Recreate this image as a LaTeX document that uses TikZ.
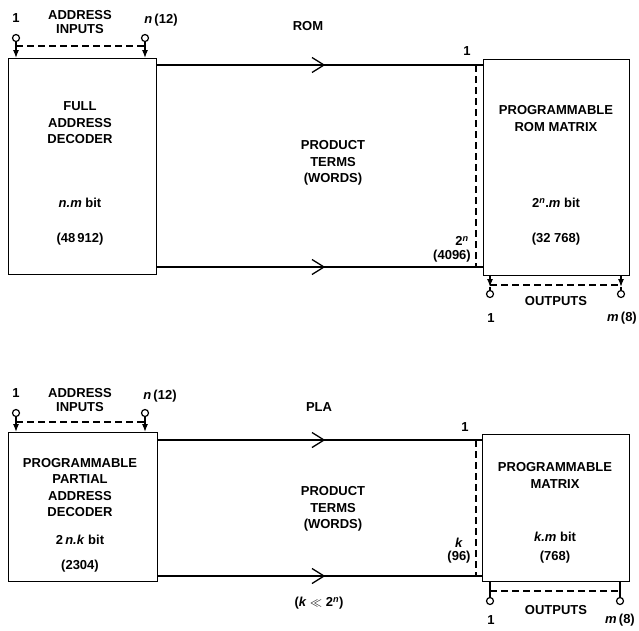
\documentclass[tikz,border=0pt]{standalone}
\usepackage{fontspec}
\setmainfont{Liberation Sans}
\usetikzlibrary{arrows.meta}
\begin{document}
\begin{tikzpicture}[x=1pt,y=-1pt,
  box/.style={draw, line width=1.4pt, inner sep=0, anchor=north west},
  lbl/.style={font=\bfseries\fontsize{13}{16.5}\selectfont, inner sep=0, align=center},
  pin/.style={draw, circle, line width=1.2pt, minimum size=7pt, inner sep=0, fill=white},
  wire/.style={line width=1.3pt},
  dline/.style={line width=1.2pt, dash pattern=on 7pt off 4pt},
  tip/.style={-{Latex[length=8pt,width=6pt]}}
]
\useasboundingbox[fill=white] (0,0) rectangle (639,630);

% ================= ROM =================
\node[box, minimum width=148pt, minimum height=216pt] (L1) at (8,58) {};
\node[box, minimum width=146pt, minimum height=216pt] (R1) at (483,59) {};

\node[pin] (i1a) at (16,38) {};
\node[pin] (i1b) at (145,38) {};
\draw[wire,tip] (i1a) -- (i1a |- L1.north);
\draw[wire,tip] (i1b) -- (i1b |- L1.north);
\coordinate (d1a) at (16,46); \coordinate (d1b) at (145,46);
\draw[dline] (d1a) -- (d1b);

\node[lbl] (n1one) at (16,18) {1};
\node[lbl] (n1addr) at (80,22) {ADDRESS\\[-3pt]INPUTS};
\node[lbl] (n1n) at (161,20) {\textit{n}\,(12)};
\node[lbl] (rom) at (308,26) {ROM};

\coordinate (t1a) at (156,65); \coordinate (t1b) at (483,65);
\coordinate (b1a) at (156,267); \coordinate (b1b) at (483,267);
\draw[wire] (t1a) -- (t1b);
\draw[wire] (b1a) -- (b1b);
\draw[wire] (312,57.5) -- (324,65) -- (312,72.5);
\draw[wire] (312,259.5) -- (324,267) -- (312,274.5);
\coordinate (v1a) at (476,65); \coordinate (v1b) at (476,267);
\draw[dline] (v1a) -- (v1b);

\node[lbl] (r1one) at (467,51) {1};
\node[lbl] (r12n) at (462,241) {2\textsuperscript{\textit{n}}};
\node[lbl] (r14096) at (452,256) {(4096)};

\node[lbl] (l1txt) at (80,123) {FULL\\ADDRESS\\DECODER};
\node[lbl] (l1bit) at (80,203) {\textit{n.m} bit};
\node[lbl] (l1num) at (80,239) {(48\,912)};

\node[lbl] (pt1) at (333,163) {PRODUCT\\TERMS\\(WORDS)};

\node[lbl] (r1txt) at (556,118.5) {PROGRAMMABLE\\ROM MATRIX};
\node[lbl] (r1bit) at (556,203) {2\textsuperscript{\textit{n}}.\textit{m} bit};
\node[lbl] (r1num) at (556,239) {(32 768)};

\node[pin] (o1a) at (490,294) {};
\node[pin] (o1b) at (621,294) {};
\coordinate (o1ac) at (490,287); \coordinate (o1bc) at (621,287);
\draw[wire,tip] (o1a |- R1.south) -- (o1ac);
\draw[wire] (o1ac) -- (o1a);
\draw[wire,tip] (o1b |- R1.south) -- (o1bc);
\draw[wire] (o1bc) -- (o1b);
\coordinate (d1c) at (490,285); \coordinate (d1d) at (621,285);
\draw[dline] (d1c) -- (d1d);
\node[lbl] (out1) at (556,301) {OUTPUTS};
\node[lbl] (out1one) at (491,318) {1};
\node[lbl] (out1m) at (622,318) {\textit{m}\,(8)};

% ================= PLA =================
\node[box, minimum width=149pt, minimum height=149pt] (L2) at (8,432) {};
\node[box, minimum width=147pt, minimum height=147pt] (R2) at (482,434) {};

\node[pin] (i2a) at (16,413) {};
\node[pin] (i2b) at (145,413) {};
\draw[wire,tip] (i2a) -- (i2a |- L2.north);
\draw[wire,tip] (i2b) -- (i2b |- L2.north);
\coordinate (d2a) at (16,422); \coordinate (d2b) at (145,422);
\draw[dline] (d2a) -- (d2b);

\node[lbl] (n2one) at (16,393) {1};
\node[lbl] (n2addr) at (80,400) {ADDRESS\\[-2pt]INPUTS};
\node[lbl] (n2n) at (160,396) {\textit{n}\,(12)};
\node[lbl] (pla) at (319,407) {PLA};

\coordinate (t2a) at (157,440); \coordinate (t2b) at (482,440);
\coordinate (b2a) at (157,576); \coordinate (b2b) at (482,576);
\draw[wire] (t2a) -- (t2b);
\draw[wire] (b2a) -- (b2b);
\draw[wire] (312,432.5) -- (324,440) -- (312,447.5);
\draw[wire] (312,568.5) -- (324,576) -- (312,583.5);
\coordinate (v2a) at (476,440); \coordinate (v2b) at (476,576);
\draw[dline] (v2a) -- (v2b);

\node[lbl] (r2one) at (465,427) {1};
\node[lbl] (r2k) at (459,543) {\textit{k}};
\node[lbl] (r296) at (459,557) {(96)};

\node[lbl] (l2txt) at (80,487.5) {PROGRAMMABLE\\PARTIAL\\ADDRESS\\DECODER};
\node[lbl] (l2bit) at (80,540) {2\,\textit{n.k} bit};
\node[lbl] (l2num) at (80,566) {(2304)};

\node[lbl] (pt2) at (333,509) {PRODUCT\\TERMS\\(WORDS)};
\node[lbl] (kll) at (319,603) {(\textit{k} $\ll$ 2\textsuperscript{\textit{n}})};

\node[lbl] (r2txt) at (555,475.5) {PROGRAMMABLE\\MATRIX};
\node[lbl] (r2bit) at (555,537) {\textit{k.m} bit};
\node[lbl] (r2num) at (555,557) {(768)};

\node[pin] (o2a) at (490,601) {};
\node[pin] (o2b) at (620,601) {};
\draw[wire] (o2a |- R2.south) -- (o2a);
\draw[wire] (o2b |- R2.south) -- (o2b);
\coordinate (d2c) at (490,591); \coordinate (d2d) at (620,591);
\draw[dline] (d2c) -- (d2d);
\node[lbl] (out2) at (556,610) {OUTPUTS};
\node[lbl] (out2one) at (491,620) {1};
\node[lbl] (out2m) at (620,620) {\textit{m}\,(8)};
\end{tikzpicture}
\end{document}
